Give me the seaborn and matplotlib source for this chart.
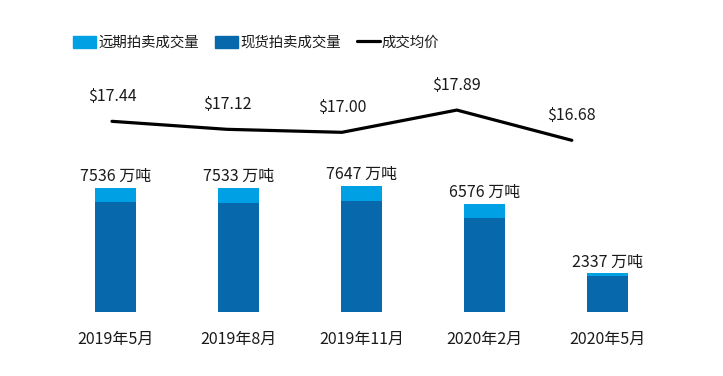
import pandas as pd
import matplotlib.pyplot as plt
import seaborn as sns
from matplotlib.patches import Patch
from matplotlib.lines import Line2D

# --- datos ---
meses = ['2019年5月', '2019年8月', '2019年11月', '2020年2月', '2020年5月']
spot = [6686, 6620, 6730, 5714, 2187]        # 现货拍卖成交量 (万吨)
forward = [850, 913, 917, 862, 150]          # 远期拍卖成交量 (万吨)
precio = [17.44, 17.12, 17.00, 17.89, 16.68]  # 成交均价 ($)

color_forward = '#00A0E4'
color_spot = '#0868AC'
color_texto = '#1a1a1a'

sns.set_style('white')
plt.rcParams['font.family'] = ['Noto Sans CJK SC', 'DejaVu Sans']

df = pd.DataFrame({'月份': meses, '现货': spot, '远期': forward})
df['合计'] = df['现货'] + df['远期']

fig = plt.figure(figsize=(7.23, 3.76), dpi=100)

# --- barras apiladas ---
ax = fig.add_axes([0.0747, 0.171, 0.8506, 0.4375])
sns.barplot(data=df, x='月份', y='合计', color=color_forward, saturation=1,
            width=0.333, linewidth=0, ax=ax)
sns.barplot(data=df, x='月份', y='现货', color=color_spot, saturation=1,
            width=0.333, linewidth=0, ax=ax)
ax.bar_label(ax.containers[0], labels=[f'{v} 万吨' for v in df['合计']],
             padding=2, fontsize=11.5, color=color_texto)
ax.set_xlim(-0.5, 4.5)
ax.set_ylim(0, 10000)
ax.set_xlabel('')
ax.set_ylabel('')
ax.set_yticks([])
ax.tick_params(axis='x', length=0, pad=14, labelsize=11.5, labelcolor=color_texto)
sns.despine(ax=ax, left=True, bottom=True)

# --- línea de precio ---
ax2 = fig.add_axes([0.0754, 0.5816, 0.795, 0.1662])
ax2.patch.set_alpha(0)
sns.lineplot(x=meses, y=precio, color='black', lw=2.3, sort=False, ax=ax2)
for i, p in enumerate(precio):
    ax2.annotate(f'${p:.2f}', (i, p), xytext=(0, 25), textcoords='offset pixels',
                 ha='center', va='center', fontsize=11.5, color=color_texto)
ax2.set_xlim(-0.5, 4.5)
ax2.set_ylim(16, 18.5)
ax2.axis('off')

# --- leyenda ---
handles = [Patch(color=color_forward), Patch(color=color_spot),
           Line2D([], [], color='black', lw=2.3)]
labels = ['远期拍卖成交量', '现货拍卖成交量', '成交均价']
fig.legend(handles, labels, loc='center left', bbox_to_anchor=(0.101, 0.886),
           ncol=3, frameon=False, borderpad=0, borderaxespad=0,
           handlelength=1.6, handleheight=0.85, handletextpad=0.15,
           columnspacing=1.1, fontsize=10.4, labelcolor=color_texto)

fig.savefig('out.png', dpi=100)
